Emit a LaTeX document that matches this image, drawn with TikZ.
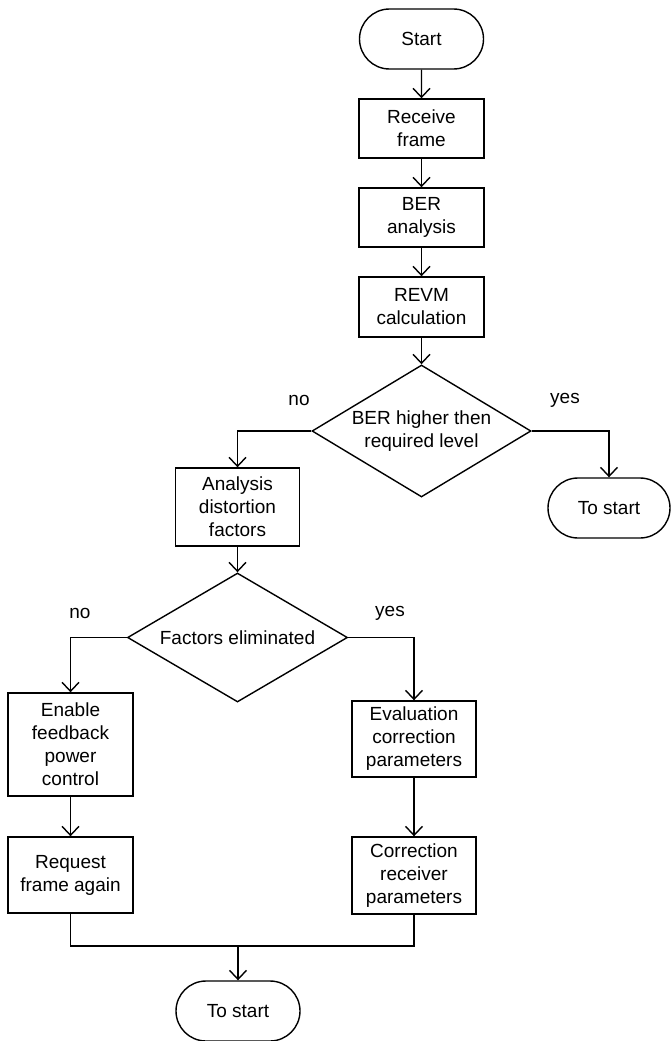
\documentclass[tikz,border=0pt]{standalone}
\usepackage{fontspec}
\setmainfont{Liberation Sans}
\usetikzlibrary{shapes.misc,shapes.geometric,arrows.meta}
\begin{document}
\begin{tikzpicture}[x=1pt,y=-1pt,
  line width=1.4pt,
  every node/.style={font=\fontsize{19}{23}\selectfont, align=center},
  term/.style={draw, rounded rectangle, minimum width=124pt, minimum height=60pt, inner sep=0pt},
  proc/.style={draw, rectangle, minimum width=125pt, inner sep=0pt},
  decision/.style={draw, diamond, inner sep=0pt},
  conn/.style={-{Straight Barb[length=9pt,width=17pt,line width=1.4pt]}},
  lbl/.style={inner sep=0pt}
]
\useasboundingbox (0,0) rectangle (670,1041);

\node[term] (start) at (421.5,39) {Start};
\node[proc, minimum height=59pt] (recv) at (421.5,128.5) {Receive\\frame};
\node[proc, minimum height=59pt] (ber) at (421.5,217.5) {BER\\analysis};
\node[proc, minimum height=60pt] (revm) at (421.5,307) {REVM\\calculation};
\node[decision, minimum width=219pt, minimum height=132pt,
  label={[align=center]center:BER higher then\\required level}] (d1) at (421.5,431) {};
\node[proc, minimum width=124pt, minimum height=78pt] (anal) at (237.5,507) {Analysis\\distortion\\factors};
\node[term, minimum width=122pt] (ts1) at (609,508) {To start};
\node[decision, minimum width=220pt, minimum height=129pt,
  label={[align=center]center:Factors eliminated}] (d2) at (237.5,637.5) {};
\node[proc, minimum height=103pt] (enable) at (70.5,744.5) {Enable\\feedback\\power\\control};
\node[proc, minimum height=76pt] (req) at (70.5,875) {Request\\frame again};
\node[proc, minimum width=124pt, minimum height=76pt] (eval) at (414,739) {Evaluation\\correction\\parameters};
\node[proc, minimum width=124pt, minimum height=77pt] (corr) at (414,875.5) {Correction\\receiver\\parameters};
\node[term] (ts2) at (238,1011) {To start};

\node[lbl] (no1) at (299,400) {no};
\node[lbl] (yes1) at (565,400) {yes};
\node[lbl] (no2) at (80,613) {no};
\node[lbl] (yes2) at (390,613) {yes};

\coordinate (m) at (238,946);

\draw[conn] (start) -- (recv);
\draw[conn] (recv) -- (ber);
\draw[conn] (ber) -- (revm);
\draw[conn] (revm) -- (d1);
\draw[conn] (d1.west) -| (anal.north);
\draw[conn] (d1.east) -| (ts1.north);
\draw[conn] (anal) -- (d2);
\draw[conn] (d2.west) -| (enable.north);
\draw[conn] (d2.east) -| (eval.north);
\draw[conn] (enable) -- (req);
\draw[conn] (eval) -- (corr);
\draw (req.south) |- (m) -| (corr.south);
\draw[conn] (m) -- (ts2);
\end{tikzpicture}
\end{document}
